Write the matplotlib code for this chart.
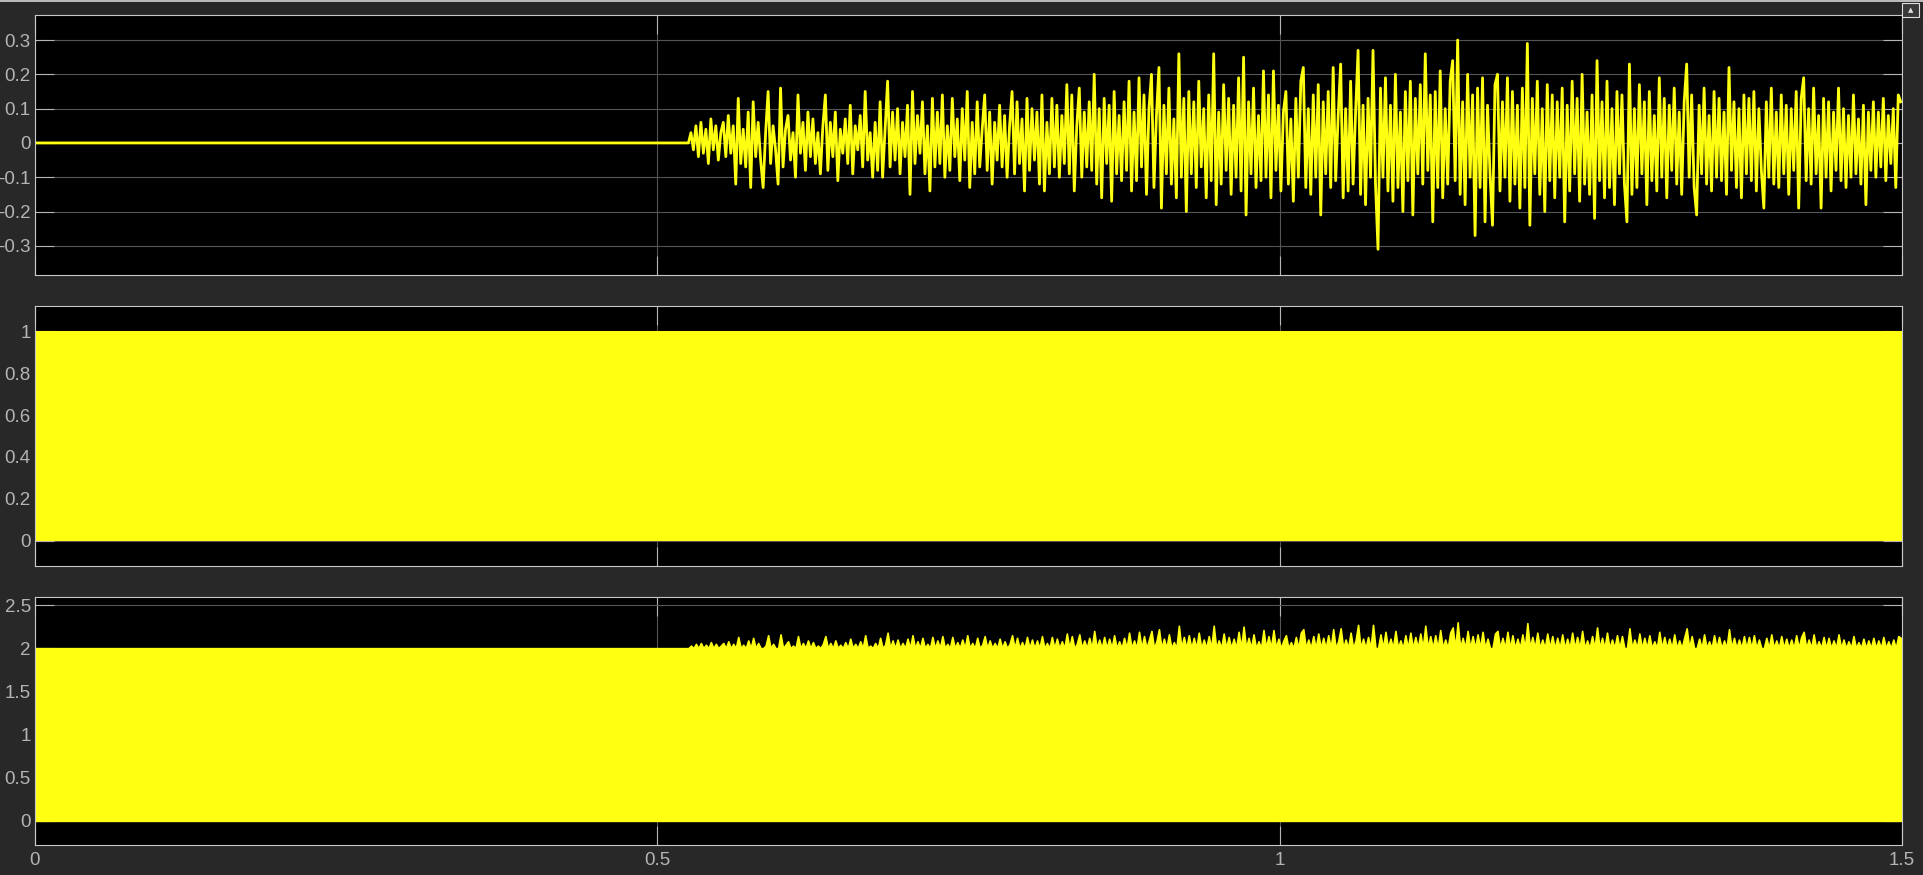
import numpy as np
import matplotlib.pyplot as plt
from matplotlib.patches import Rectangle
from matplotlib.lines import Line2D

plt.rcParams['font.family'] = ['Liberation Sans', 'DejaVu Sans']
plt.rcParams['axes.unicode_minus'] = False

t_end = 1.5
noise_start = 0.525   # disturbance switches on here
sample_step = 0.002

pwm_low = 0.0
pwm_high = 1.0
sum_high = 2.0

# disturbance, in units of 0.01
noise_cent = [
    0, 3, -2, 5, -4, 6, -3, 4, -6, 7, -2, 5, -5, 3, 6, -4, 8, -3, 5, -12, 13, -6, 4, -7, 9,
    -13, 12, -4, 6, -5, -13, 3, 15, -6, 5, -2, -12, 16, -7, 4, 8, -5, 3, -10, 14, -3, 6, -8, 9, -4,
    7, -6, 3, -9, 5, 14, -8, 6, -4, 9, -11, 4, -3, 7, -6, 11, -9, 5, -2, 8, -7, 15, -5, 3, -10,
    6, -8, 12, -10, 4, 18, -7, 9, -5, 10, -9, 6, -4, 11, -15, 15, -6, 8, -3, 12, -9, 5, -14, 13, -7,
    9, -6, 14, -10, 5, -8, 13, -4, 7, -11, 10, -5, 15, -13, 6, -9, 12, -7, 4, 14, -8, 9, -12, 6, -5,
    11, -7, 8, -10, 5, 15, -9, 12, -6, 7, -14, 13, -8, 10, -5, 9, -12, 14, -14, 6, -9, 13, -7, 11, -10,
    8, -6, 17, -9, 14, -14, 5, 16, -10, 9, -7, 12, -8, 20, -12, 10, -16, 13, -6, 11, -17, 15, -9, 8, -11,
    12, -8, 18, -14, 9, -11, 19, -7, 14, -15, 10, 20, -13, 8, 22, -19, 11, -9, 16, -12, 7, -16, 26, -10, 13,
    -20, 15, -9, 12, -13, 18, -7, 10, -16, 14, -11, 26, -18, 9, -12, 17, -8, 13, -15, 11, -10, 19, -14, 25, -21,
    12, -9, 16, -13, 8, -11, 21, -10, 14, -16, 21, -8, 11, -14, 9, 15, -12, 7, -17, 13, -10, 18, 22, -13, 10,
    -15, 14, -10, 17, -21, 12, -9, 15, -13, 22, -11, 8, 23, -16, 10, -14, 18, -12, 9, 27, -15, 11, -18, 13, -10,
    27, -12, -31, 16, -10, 19, -14, 11, -17, 20, -13, 9, -20, 15, -11, 18, -21, 13, -9, 17, -12, 26, -8, 14, -23,
    15, -13, 21, -16, 10, -12, 18, 24, -11, 30, -15, 12, -18, 20, -10, 14, -27, 16, -13, 19, -23, 11, -9, -24, 17,
    20, -14, 12, -10, 19, -17, 15, -12, 11, -19, 16, -13, 29, -24, 13, -9, 18, -15, 10, -20, 17, -11, 14, -16, 12,
    -10, 16, -23, 11, -14, 18, -9, 13, -17, 20, -12, 9, -15, 14, -22, 24, -11, 12, -16, 18, -13, 10, -18, 15, -9,
    14, -12, -23, 23, -15, 10, -13, 17, -9, 12, -18, 15, -11, 8, -14, 19, -10, 13, -16, 11, -8, 16, -12, 9, -15,
    12, 23, -10, 14, -13, -21, 11, -9, 16, -12, 8, -14, 15, -10, 13, -11, 9, -15, 22, -8, 12, -13, 10, -16, 14,
    -9, 13, -11, 15, -14, 10, -8, -19, 12, -10, 16, -12, 9, -13, 14, -9, 11, -15, 10, -8, 15, -19, 13, 19, -11,
    10, -12, 16, -9, 8, -19, 13, -10, 12, -14, 9, -8, 16, -11, 10, -13, 8, -10, 14, -9, 7, -12, 11, -18, 9,
    -8, 12, -10, 9, -7, 13, -11, 8, -6, 10, -13, 14, 12,
]

top_yticks = [-0.3, -0.2, -0.1, 0, 0.1, 0.2, 0.3]
mid_yticks = [0, 0.2, 0.4, 0.6, 0.8, 1]
bot_yticks = [0, 0.5, 1, 1.5, 2, 2.5]
xticks = [0, 0.5, 1, 1.5]

yellow = '#ffff11'
fig_bg = '#282828'
light = '#b4b4b4'
grid_c = '#555555'
lbl = 13.5

noise = np.array(noise_cent) / 100.0
t_noise = noise_start + sample_step * np.arange(len(noise))
t = np.concatenate([[0.0], t_noise])

fig = plt.figure(figsize=(19.23, 8.75), dpi=100, facecolor=fig_bg)
W, H = 1923.0, 875.0
left, right = 35 / W, 1902 / W
boxes = [(15, 275), (306, 566), (597, 845)]
axes = []
for top, bot in boxes:
    ax = fig.add_axes([left, 1 - bot / H, right - left, (bot - top) / H])
    ax.set_facecolor('black')
    for s in ax.spines.values():
        s.set_color('#c8c8c8')
        s.set_linewidth(0.8)
    ax.set_axisbelow(True)
    ax.grid(True, color=grid_c, linewidth=0.8)
    ax.set_xlim(0, t_end)
    ax.set_xticks(xticks)
    axes.append(ax)

ax1, ax2, ax3 = axes

# top: disturbance
ax1.plot(t, np.concatenate([[0.0], noise]), color=yellow, linewidth=2.0)
ax1.set_ylim(-0.385, 0.373)
ax1.set_yticks(top_yticks)
ax1.set_yticklabels(['-0.3', '-0.2', '-0.1', '0', '0.1', '0.2', '0.3'], fontsize=lbl)
ax1.set_xticklabels([])

# middle: pwm carrier, too fast to resolve
ax2.fill_between([0, t_end], pwm_low, pwm_high, color=yellow, linewidth=0)
ax2.set_ylim(-0.12, 1.12)
ax2.set_yticks(mid_yticks)
ax2.set_yticklabels(['0', '0.2', '0.4', '0.6', '0.8', '1'], fontsize=lbl)
ax2.set_xticklabels([])

# bottom: pwm at 2 plus disturbance on the high state
upper = np.concatenate([[sum_high], sum_high + np.clip(noise, 0, None)])
ax3.fill_between(t, pwm_low, upper, color=yellow, linewidth=1.2, edgecolor=yellow)
ax3.set_ylim(-0.28, 2.593)
ax3.set_yticks(bot_yticks)
ax3.set_yticklabels(['0', '0.5', '1', '1.5', '2', '2.5'], fontsize=lbl)
ax3.set_xticklabels(['0', '0.5', '1', '1.5'], fontsize=lbl)

for ax in axes:
    ax.tick_params(direction='in', length=13.5, width=0.8, color=light,
                   labelcolor=light, top=True, right=True, pad=3)
    ax.tick_params(axis='x', pad=5)

# window edge and the little undock button
fig.add_artist(Line2D([0, 1], [1 - 0.8 / H, 1 - 0.8 / H], color='#d8d8d8', linewidth=1.2))
fig.add_artist(Rectangle((1902 / W, 1 - 17 / H), 17 / W, 14 / H, facecolor='#3a3a3a',
                         edgecolor='#e0e0e0', linewidth=0.8))
fig.text(1910.5 / W, 1 - 10.5 / H, '\u25B2', color='#e0e0e0', fontsize=5,
         ha='center', va='center', family=['DejaVu Sans'])

fig.savefig('out.png', dpi=100, facecolor=fig_bg)
